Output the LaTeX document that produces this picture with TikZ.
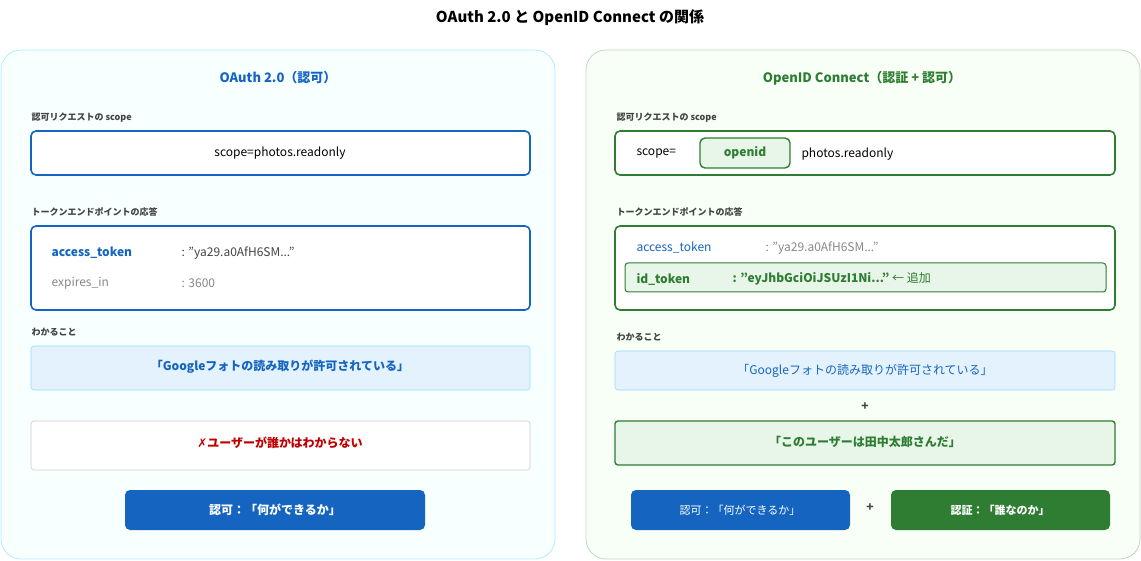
\documentclass[tikz,border=0pt]{standalone}
\usepackage{fontspec}
\setmainfont{Noto Sans CJK JP}
\newfontfamily\dejavu{DejaVu Sans}
\definecolor{blu}{HTML}{1565C0}
\definecolor{grn}{HTML}{2E7D32}
\definecolor{lblu}{HTML}{E3F2FD}
\definecolor{lgrn}{HTML}{E8F5E9}
\definecolor{gtx}{HTML}{888888}
\definecolor{dtx}{HTML}{444444}
\begin{document}
\begin{tikzpicture}[x=1pt,y=-1pt,
  panel/.style={rounded corners=20pt,line width=0.8pt},
  box/.style={rounded corners=5pt,line width=1.6pt,fill=white},
  lab/.style={anchor=west,font=\fontsize{9}{10}\selectfont\bfseries,text=dtx},
  body/.style={font=\fontsize{12}{14}\selectfont},
  btn/.style={rounded corners=5pt,draw=none}]
\useasboundingbox (0,0) rectangle (1141,561);
\node[font=\fontsize{15}{18}\selectfont\bfseries] (title) at (570,18) {OAuth 2.0 と OpenID Connect の関係};
% left panel
\draw[panel,draw=blue!25!cyan!30,fill=blue!3!cyan!3] (1,50) rectangle (555,559);
\node[font=\fontsize{13}{15}\selectfont\bfseries,text=blu] (lt) at (278,78) {OAuth 2.0（認可）};
\node[lab] (l1) at (28,118) {認可リクエストの scope};
\draw[box,draw=blu] (31,131) rectangle (530,175);
\node[body] (ls) at (280,153) {scope=photos.readonly};
\node[lab] (l2) at (28,212) {トークンエンドポイントの応答};
\draw[box,draw=blu] (31,226) rectangle (530,310);
\node[body,anchor=west,text=blu,font=\fontsize{12}{14}\selectfont\bfseries] (la) at (48,253) {access\_token};
\node[body,anchor=west,text=dtx] (lav) at (178,253) {: "ya29.a0AfH6SM..."};
\node[body,anchor=west,text=gtx] (le) at (48,283) {expires\_in};
\node[body,anchor=west,text=gtx] (lev) at (178,283) {: 3600};
\node[lab] (l3) at (28,332) {わかること};
\draw[rounded corners=3pt,draw=blue!35!cyan!40,fill=lblu,line width=0.6pt] (31,346) rectangle (530,390);
\node[body,text=blu,font=\fontsize{12}{14}\selectfont\bfseries] (lk) at (280,367) {「Googleフォトの読み取りが許可されている」};
\draw[rounded corners=3pt,draw=black!20,fill=white,line width=0.6pt] (31,421) rectangle (530,470);
\node[body,text=red!75!black,font=\fontsize{12}{14}\selectfont\bfseries] (lu) at (280,443) {{\dejavu ✗}ユーザーが誰かはわからない};
\fill[btn,blu] (125,490) rectangle (425,530);
\node[text=white,font=\fontsize{12}{14}\selectfont\bfseries] (lb) at (275,510) {認可：「何ができるか」};
% right panel
\draw[panel,draw=green!40!black!25,fill=green!3!white] (586,50) rectangle (1140,559);
\node[font=\fontsize{13}{15}\selectfont\bfseries,text=grn] (rt) at (862,78) {OpenID Connect（認証 + 認可）};
\node[lab] (r1) at (613,118) {認可リクエストの scope};
\draw[box,draw=grn] (615,131) rectangle (1115,175);
\node[body,anchor=west] (rs) at (633,154) {scope=};
\draw[rounded corners=5pt,draw=grn,fill=lgrn,line width=1.4pt] (700,138) rectangle (790,168);
\node[text=grn,font=\fontsize{12}{14}\selectfont\bfseries] (ro) at (745,153) {openid};
\node[body,anchor=west] (rp) at (798,154) {photos.readonly};
\node[lab] (r2) at (613,212) {トークンエンドポイントの応答};
\draw[box,draw=grn] (615,226) rectangle (1115,310);
\node[body,anchor=west,text=blu] (ra) at (633,248) {access\_token};
\node[body,anchor=west,text=gtx] (rav) at (762,248) {: "ya29.a0AfH6SM..."};
\draw[rounded corners=3pt,draw=grn,fill=lgrn,line width=1pt] (625,263) rectangle (1106,292);
\node[anchor=west,text=grn,font=\fontsize{12}{14}\selectfont\bfseries] (ri) at (633,279) {id\_token};
\node[anchor=west,text=grn,font=\fontsize{12}{14}\selectfont\bfseries] (riv) at (729,279) {: "eyJhbGciOiJSUzI1Ni..." {\mdseries ← 追加}};
\node[lab] (r3) at (613,337) {わかること};
\draw[rounded corners=3pt,draw=blue!35!cyan!40,fill=lblu,line width=0.6pt] (615,351) rectangle (1115,390);
\node[body,text=blu] (rk) at (865,371) {「Googleフォトの読み取りが許可されている」};
\node[text=dtx,font=\fontsize{12}{14}\selectfont\bfseries] (rplus) at (865,407) {+};
\draw[rounded corners=3pt,draw=grn,fill=lgrn,line width=1.4pt] (615,421) rectangle (1115,465);
\node[text=grn,font=\fontsize{12}{14}\selectfont\bfseries] (ru) at (865,442) {「このユーザーは田中太郎さんだ」};
\fill[btn,blu] (631,490) rectangle (850,530);
\node[text=white,font=\fontsize{11}{13}\selectfont] (rb1) at (740,510) {認可：「何ができるか」};
\node[text=dtx,font=\fontsize{12}{14}\selectfont\bfseries] (rplus2) at (870,508) {+};
\fill[btn,grn] (891,490) rectangle (1110,530);
\node[text=white,font=\fontsize{11}{13}\selectfont\bfseries] (rb2) at (1000,510) {認証：「誰なのか」};
\end{tikzpicture}
\end{document}
